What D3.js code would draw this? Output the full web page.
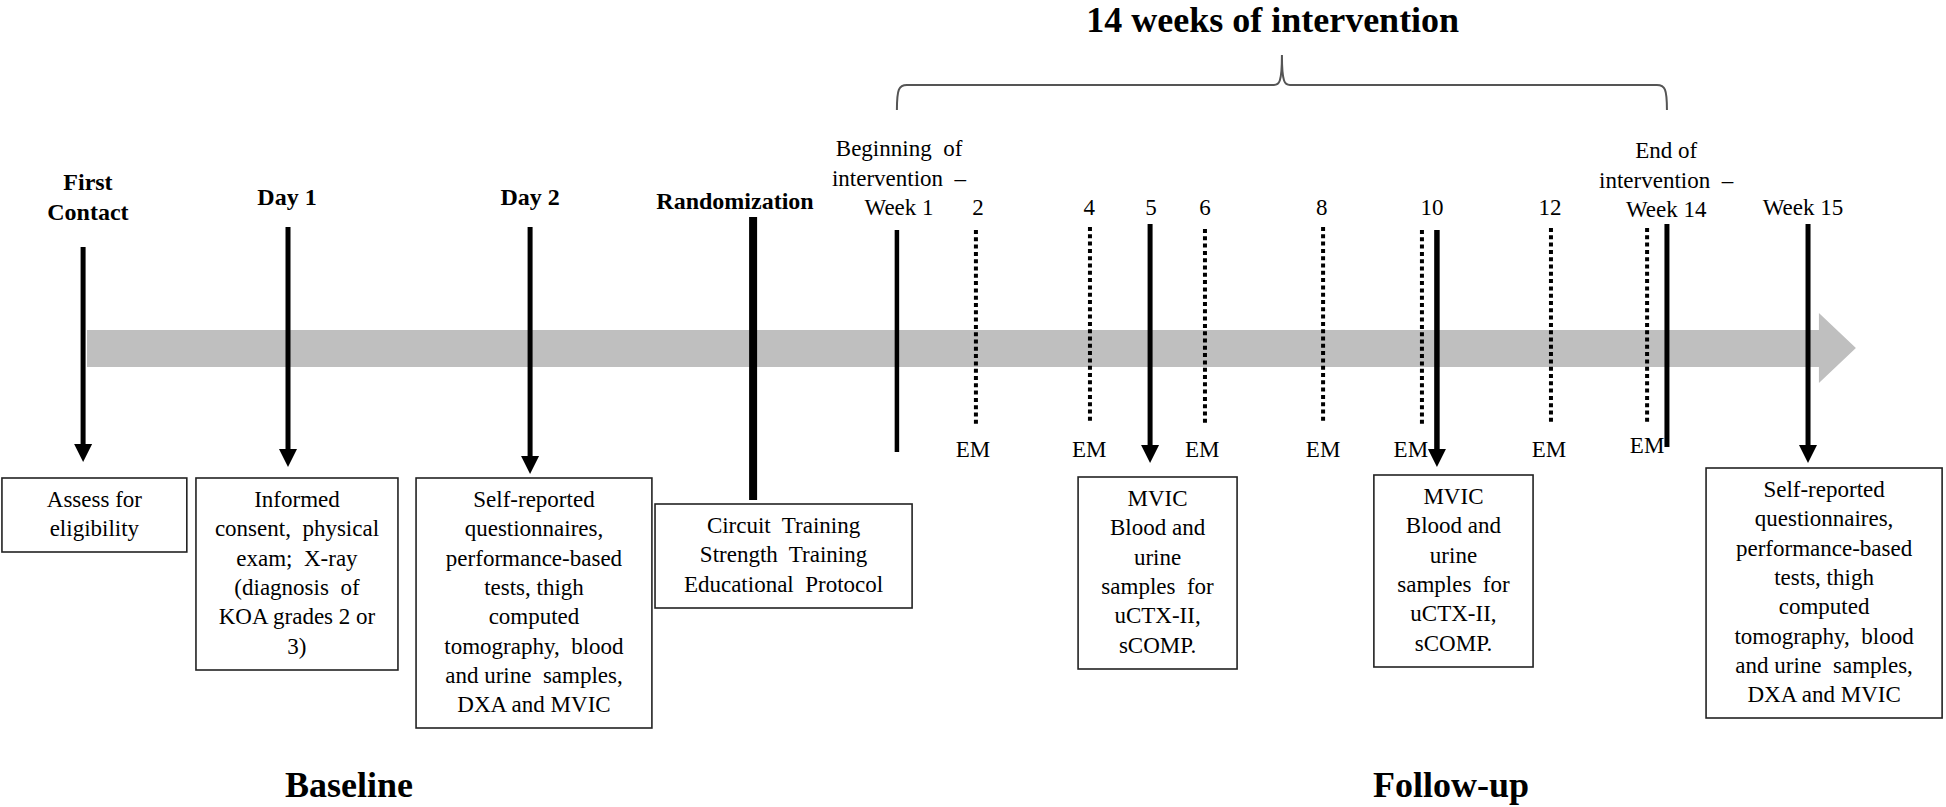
<!DOCTYPE html>
<html>
<head>
<meta charset="utf-8">
<script src="https://d3js.org/d3.v7.min.js"></script>
<style>
  body { margin: 0; background: #fff; }
  svg text { font-family: "Liberation Serif", "Times New Roman", serif; fill: #000; white-space: pre; }
</style>
</head>
<body>
<svg width="1946" height="807"></svg>
<script>
// ---- data (timeline positions in % of figure width) ----
const solidNames = ["First Contact", "Day 1", "Day 2", "Randomization", "Week 1", "Week 5", "Week 10", "Week 14", "Week 15"];
const solidPos   = [4.27, 14.80, 27.24, 38.70, 46.09, 59.10, 73.84, 85.66, 92.91];
const solidKind  = ["arrow", "arrow", "arrow", "bar", "line", "arrow", "arrow", "line", "arrow"];

const emWeeks    = [2, 4, 6, 8, 10, 12, 14];
const emPos      = [50.15, 56.01, 61.92, 67.99, 73.07, 79.70, 84.64];
const emLabelPos = [50.0, 55.97, 61.78, 67.99, 72.5, 79.6, 84.64];

const topLabels = [["First", "Contact"], ["Day 1"], ["Day 2"], ["Randomization"],
  ["Beginning  of", "intervention  –", "Week 1"], ["2"], ["4"], ["5"], ["6"], ["8"], ["10"], ["12"],
  ["End of", "intervention  –", "Week 14"], ["Week 15"]];
const topLabelPos  = [4.52, 14.75, 27.24, 37.77, 46.2, 50.26, 55.98, 59.15, 61.92, 67.92, 73.59, 79.65, 85.62, 92.65];
const topLabelBold = [true, true, true, true, false, false, false, false, false, false, false, false, false, false];

const boxText = [
  ["Assess for", "eligibility"],
  ["Informed", "consent,  physical", "exam;  X-ray", "(diagnosis  of", "KOA grades 2 or", "3)"],
  ["Self-reported", "questionnaires,", "performance-based", "tests, thigh", "computed", "tomography,  blood", "and urine  samples,", "DXA and MVIC"],
  ["Circuit  Training", "Strength  Training", "Educational  Protocol"],
  ["MVIC", "Blood and", "urine", "samples  for", "uCTX-II,", "sCOMP."],
  ["MVIC", "Blood and", "urine", "samples  for", "uCTX-II,", "sCOMP."],
  ["Self-reported", "questionnaires,", "performance-based", "tests, thigh", "computed", "tomography,  blood", "and urine  samples,", "DXA and MVIC"]
];

const phaseNames = ["Baseline", "Follow-up"];
const phasePos   = [17.93, 74.56];
const title = "14 weeks of intervention";

// ---- layout ----
const svg = d3.select("svg");
const W = +svg.attr("width");
const x = d3.scaleLinear().domain([0, 100]).range([0, W]);

// vertical extents (top, bottom) of each solid marker
const solidY = [[247, 462], [227, 467], [227, 474], [217, 500], [230, 452], [224, 463], [230, 467], [224, 447], [224, 463]];
const solidW = [5, 5, 5, 8, 4.5, 5, 5.5, 5, 5];
// box edges: left%, right%, top, bottom
const boxGeo = [[0.1, 9.6, 478, 552], [10.07, 20.45, 478, 670], [21.38, 33.5, 478, 728], [33.66, 46.87, 504, 608],
  [55.4, 63.57, 477, 669], [70.6, 78.78, 475, 667], [87.67, 99.8, 468, 718]];

const g = svg.append("g");

// gray timeline band with arrow head
const bandTop = 330, bandBot = 367, headTop = 313, headBot = 383;
const bx0 = x(4.47), bx1 = x(93.47), tip = x(95.37);
g.append("path")
  .attr("d", `M${bx0},${bandTop}H${bx1}V${headTop}L${tip},${(headTop + headBot) / 2}L${bx1},${headBot}V${bandBot}H${bx0}Z`)
  .attr("fill", "#bfbfbf");

// brace over the intervention weeks
const b0 = x(solidPos[4]), b1 = x(solidPos[7]), bm = (b0 + b1) / 2;
const bl = 110, bh = 85, bp = 55;
g.append("path")
  .attr("d", `M${b0},${bl}C${b0},${bh + 4} ${b0 + 2},${bh} ${b0 + 10},${bh}H${bm - 8}` +
    `C${bm - 3},${bh} ${bm},${bh - 2} ${bm},${bp}C${bm},${bh - 2} ${bm + 3},${bh} ${bm + 8},${bh}` +
    `H${b1 - 10}C${b1 - 2},${bh} ${b1},${bh + 4} ${b1},${bl}`)
  .attr("fill", "none").attr("stroke", "#555").attr("stroke-width", 2);

svg.append("text").attr("x", x(65.4)).attr("y", 32)
  .attr("text-anchor", "middle").attr("font-size", 36).attr("font-weight", "bold").text(title);

// dotted EM lines
const emY = [[230, 425], [227, 422], [229, 425], [227, 422], [230, 425], [228, 423], [228, 423]];
g.selectAll("line.em").data(emWeeks).join("line").attr("class", "em")
  .attr("x1", (d, i) => x(emPos[i])).attr("x2", (d, i) => x(emPos[i]))
  .attr("y1", (d, i) => emY[i][0]).attr("y2", (d, i) => emY[i][1])
  .attr("stroke", "#000").attr("stroke-width", 4).attr("stroke-dasharray", "4,3.3");
g.selectAll("text.em").data(emWeeks).join("text").attr("class", "em")
  .attr("x", (d, i) => x(emLabelPos[i])).attr("y", (d, i) => d === 14 ? 453 : 457)
  .attr("text-anchor", "middle").attr("font-size", 23).text("EM");

// solid markers
const head = 18;
solidNames.forEach((name, i) => {
  const cx = x(solidPos[i]);
  const [y0, y1] = solidY[i];
  const end = solidKind[i] === "arrow" ? y1 - head + 2 : y1;
  g.append("line").attr("x1", cx).attr("x2", cx).attr("y1", y0).attr("y2", end)
    .attr("stroke", "#000").attr("stroke-width", solidW[i]);
  if (solidKind[i] === "arrow") {
    g.append("path").attr("d", `M${cx - 9},${y1 - head}H${cx + 9}L${cx},${y1}Z`).attr("fill", "#000");
  }
});

// labels above the timeline
topLabels.forEach((lines, i) => {
  const bold = topLabelBold[i];
  let base = bold ? (lines.length > 1 ? 220 : (i === 3 ? 209 : 205)) : (i === 12 ? 217 : 215);
  const lh = bold ? 30 : 29.5;
  const t = svg.append("text").attr("text-anchor", "middle")
    .attr("font-size", bold ? 24 : 23).attr("font-weight", bold ? "bold" : "normal");
  lines.forEach((s, k) => {
    t.append("tspan").attr("x", x(topLabelPos[i]))
      .attr("y", base - (lines.length - 1 - k) * lh).text(s);
  });
});

// boxes
boxText.forEach((lines, i) => {
  const [l, r, t0, b0_] = boxGeo[i];
  const x0 = x(l), x1 = x(r);
  g.append("rect").attr("x", x0).attr("y", t0).attr("width", x1 - x0).attr("height", b0_ - t0)
    .attr("fill", "#fff").attr("stroke", "#222").attr("stroke-width", 1.6);
  const t = svg.append("text").attr("text-anchor", "middle").attr("font-size", 23);
  lines.forEach((s, k) => {
    t.append("tspan").attr("x", (x0 + x1) / 2).attr("y", t0 + 29 + k * 29.3).text(s);
  });
});

// phase labels
svg.selectAll("text.phase").data(phaseNames).join("text").attr("class", "phase")
  .attr("x", (d, i) => x(phasePos[i])).attr("y", 797)
  .attr("text-anchor", "middle").attr("font-size", 36).attr("font-weight", "bold").text(d => d);
</script>
</body>
</html>
